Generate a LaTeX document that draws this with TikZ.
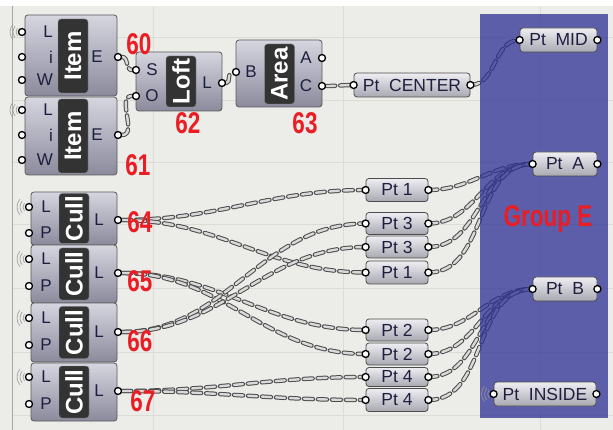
\documentclass[tikz,border=0pt]{standalone}
\usepackage{fontspec}
\setmainfont{Liberation Sans}
\newfontfamily\numfont[FakeStretch=0.75]{Liberation Sans}
\usepackage{xcolor}
\usepackage{tikz}
\usetikzlibrary{positioning, calc}

\definecolor{canvas}{RGB}{236,236,232}
\definecolor{gridln}{RGB}{220,220,214}
\definecolor{grpblue}{RGB}{44,47,148}
\definecolor{ink}{RGB}{30,30,64}
\definecolor{numred}{RGB}{234,28,36}
\definecolor{compTop}{RGB}{214,214,224}
\definecolor{compBot}{RGB}{138,138,156}
\definecolor{parTop}{RGB}{238,238,242}
\definecolor{parBot}{RGB}{168,168,178}

\pgfdeclarelayer{bg}
\pgfdeclarelayer{wirelayer}
\pgfdeclarelayer{grplayer}
\pgfsetlayers{bg,wirelayer,grplayer,main}

\begin{document}
\begin{tikzpicture}[x=1pt, y=-1pt,
  comp/.style={rectangle, draw=black!65, line width=0.8pt, rounded corners=3pt,
               top color=compTop, bottom color=compBot, inner sep=0pt},
  tag/.style={rectangle, draw=black!45, fill=black!80, rounded corners=3pt,
              rotate=90, text=white, font=\fontsize{24}{24}\selectfont\bfseries,
              inner sep=0pt, minimum height=30},
  param/.style={rectangle, draw=black!70, line width=0.8pt, rounded corners=3pt,
                top color=parTop, bottom color=parBot, text=ink,
                font=\fontsize{17.5}{17.5}\selectfont, minimum height=24, inner sep=2pt},
  plbl/.style={text=ink, font=\fontsize{17}{17}\selectfont, inner sep=0pt},
  port/.style={circle, draw=black, fill=white, line width=1.3pt,
               minimum size=7, inner sep=0pt},
  num/.style={text=numred, font=\numfont\bfseries\fontsize{30}{30}\selectfont, inner sep=0pt},
  wire/.style={draw=black!70, double=black!15, double distance=2.4pt, line width=1pt,
               dash pattern=on 9pt off 5pt, line cap=round},
  wave/.style={draw=black!40, line width=0.6pt}
]
\useasboundingbox (0,0) rectangle (613,430);

% canvas
\begin{pgfonlayer}{bg}
\fill[canvas] (0,0) rectangle (613,430);
\fill[white] (0,0) rectangle (613,6);
\draw[gridln, line width=0.8pt] (153,6) -- (153,430) (343,6) -- (343,430) (540,6) -- (540,430);
\foreach \gy in {37,100,162,224,288,352,415}
  \draw[gridln, line width=0.8pt] (12,\gy) -- (613,\gy);
\draw[black!35, line width=1pt] (12,6) -- (12,430);
\end{pgfonlayer}

% group
\begin{pgfonlayer}{grplayer}
\fill[grpblue, opacity=0.75] (480,14) rectangle (608,418);
\end{pgfonlayer}
\node[num] (grpE) at (548,219) {Group E};

% list item components
\node[comp, minimum width=92, minimum height=81] (item1) at (71,55.5) {};
\node[tag, minimum width=74] (item1T) at (73,56) {Item};
\node[plbl, anchor=east] at (53,32) {L};
\node[plbl, anchor=east] at (53,57) {i};
\node[plbl, anchor=east] at (53,80) {W};
\node[plbl] at (97,57) {E};

\node[comp, minimum width=92, minimum height=78] (item2) at (71,136) {};
\node[tag, minimum width=74] (item2T) at (73,136) {Item};
\node[plbl, anchor=east] at (53,110) {L};
\node[plbl, anchor=east] at (53,135) {i};
\node[plbl, anchor=east] at (53,160) {W};
\node[plbl] at (97,135) {E};

% loft
\node[comp, minimum width=86, minimum height=59] (loft) at (179,81.5) {};
\node[tag, minimum width=51] (loftT) at (181,81.5) {Loft};
\node[plbl] at (152,70) {S};
\node[plbl] at (152,96) {O};
\node[plbl] at (207,83) {L};

% area
\node[comp, minimum width=86, minimum height=67] (area) at (279,73.5) {};
\node[tag, minimum width=60] (areaT) at (279.5,74) {Area};
\node[plbl] at (251,72) {B};
\node[plbl] at (306,58) {A};
\node[plbl] at (306,86) {C};

% cull components
\node[comp, minimum width=86, minimum height=53] (cull1) at (74,218.5) {};
\node[tag, minimum width=50] (cull1T) at (74,218.5) {Cull};
\node[plbl] at (46,207) {L};
\node[plbl] at (46,233) {P};
\node[plbl] at (99,220) {L};

\node[comp, minimum width=86, minimum height=58] (cull2) at (74,274) {};
\node[tag, minimum width=52] (cull2T) at (74,274) {Cull};
\node[plbl] at (46,259) {L};
\node[plbl] at (46,286) {P};
\node[plbl] at (99,273) {L};

\node[comp, minimum width=86, minimum height=59] (cull3) at (74,332.5) {};
\node[tag, minimum width=52] (cull3T) at (74,332.5) {Cull};
\node[plbl] at (46,318) {L};
\node[plbl] at (46,345) {P};
\node[plbl] at (99,332) {L};

\node[comp, minimum width=86, minimum height=58] (cull4) at (74,392) {};
\node[tag, minimum width=52] (cull4T) at (74,392) {Cull};
\node[plbl] at (46,377) {L};
\node[plbl] at (46,404) {P};
\node[plbl] at (99,391) {L};

% point params
\node[param, minimum width=116] (ptC) at (412,85) {Pt~~CENTER};
\node[param, minimum width=77] (ptMid) at (558.5,40) {Pt~~MID};
\node[param, minimum width=64] (ptA) at (565,164) {Pt~~A};
\node[param, minimum width=64] (ptB) at (565,289) {Pt~~B};
\node[param, minimum width=102] (ptIn) at (545,394) {Pt~~INSIDE};

\node[param, minimum width=62, minimum height=23] (pt1a) at (397,190) {Pt 1};
\node[param, minimum width=62, minimum height=22] (pt3a) at (397,223.5) {Pt 3};
\node[param, minimum width=62, minimum height=22] (pt3b) at (397,247) {Pt 3};
\node[param, minimum width=62, minimum height=23] (pt1b) at (397,272.5) {Pt 1};
\node[param, minimum width=62, minimum height=22] (pt2a) at (397,330) {Pt 2};
\node[param, minimum width=62, minimum height=22] (pt2b) at (397,354) {Pt 2};
\node[param, minimum width=62, minimum height=19] (pt4a) at (397,377) {Pt 4};
\node[param, minimum width=62, minimum height=23] (pt4b) at (397,400) {Pt 4};

% ports
\node[port] (i1L) at (22,32) {};
\node[port] (i1i) at (22,57) {};
\node[port] (i1W) at (22,80) {};
\node[port] (i1E) at (118,57) {};
\node[port] (i2L) at (22,110) {};
\node[port] (i2i) at (22,135) {};
\node[port] (i2W) at (22,160) {};
\node[port] (i2E) at (118,135) {};
\node[port] (loS) at (136,70) {};
\node[port] (loO) at (136,96) {};
\node[port] (loL) at (222,83) {};
\node[port] (arB) at (236,72) {};
\node[port] (arA) at (322,58) {};
\node[port] (arC) at (322,86) {};
\node[port] (c1L) at (29,207) {};
\node[port] (c1P) at (29,233) {};
\node[port] (c1O) at (118,220) {};
\node[port] (c2L) at (29,259) {};
\node[port] (c2P) at (29,286) {};
\node[port] (c2O) at (118,273) {};
\node[port] (c3L) at (29,318) {};
\node[port] (c3P) at (29,345) {};
\node[port] (c3O) at (118,332) {};
\node[port] (c4L) at (29,377) {};
\node[port] (c4P) at (29,404) {};
\node[port] (c4O) at (118,391) {};
\foreach \p in {ptC, ptMid, ptA, ptB, ptIn, pt1a, pt3a, pt3b, pt1b, pt2a, pt2b, pt4a, pt4b}{
  \node[port] at (\p.west) {};
  \node[port] at (\p.east) {};
}

% waves on inputs with internal data
\foreach \w in {i1L, i2L, c1L, c2L, c3L, c4L, ptIn.west}
  \foreach \r in {6,9,12}
    \draw[wave] (\w) ++(140:\r) arc[start angle=140, end angle=220, radius=\r];

% wires
\begin{pgfonlayer}{wirelayer}
\draw[wire] (i1E) to[out=0, in=180] (loS);
\draw[wire] (i2E) to[out=0, in=180] (loO);
\draw[wire] (loL) to[out=0, in=180] (arB);
\draw[wire] (arC) to[out=0, in=180] (ptC.west);
\draw[wire] (ptC.east) to[out=0, in=180] (ptMid.west);

\draw[wire] (c1O) to[out=0, in=180] (pt1a.west);
\draw[wire] (c1O) to[out=0, in=180] (pt1b.west);
\draw[wire] (c2O) to[out=0, in=180] (pt2a.west);
\draw[wire] (c2O) to[out=0, in=180] (pt2b.west);
\draw[wire] (c3O) to[out=0, in=180] (pt3a.west);
\draw[wire] (c3O) to[out=0, in=180] (pt3b.west);
\draw[wire] (c4O) to[out=0, in=180] (pt4a.west);
\draw[wire] (c4O) to[out=0, in=180] (pt4b.west);

\draw[wire] (pt1a.east) to[out=0, in=180] (ptA.west);
\draw[wire] (pt3a.east) to[out=0, in=180] (ptA.west);
\draw[wire] (pt3b.east) to[out=0, in=180] (ptA.west);
\draw[wire] (pt1b.east) to[out=0, in=180] (ptA.west);
\draw[wire] (pt2a.east) to[out=0, in=180] (ptB.west);
\draw[wire] (pt2b.east) to[out=0, in=180] (ptB.west);
\draw[wire] (pt4a.east) to[out=0, in=180] (ptB.west);
\draw[wire] (pt4b.east) to[out=0, in=180] (ptB.west);
\end{pgfonlayer}

% numbers
\node[num] (n60) at (139,44) {60};
\node[num] (n61) at (138,165) {61};
\node[num] (n62) at (188,123) {62};
\node[num] (n63) at (305,123) {63};
\node[num] (n64) at (140,222) {64};
\node[num] (n65) at (140,281) {65};
\node[num] (n66) at (140,341) {66};
\node[num] (n67) at (143,401) {67};
\end{tikzpicture}
\end{document}
